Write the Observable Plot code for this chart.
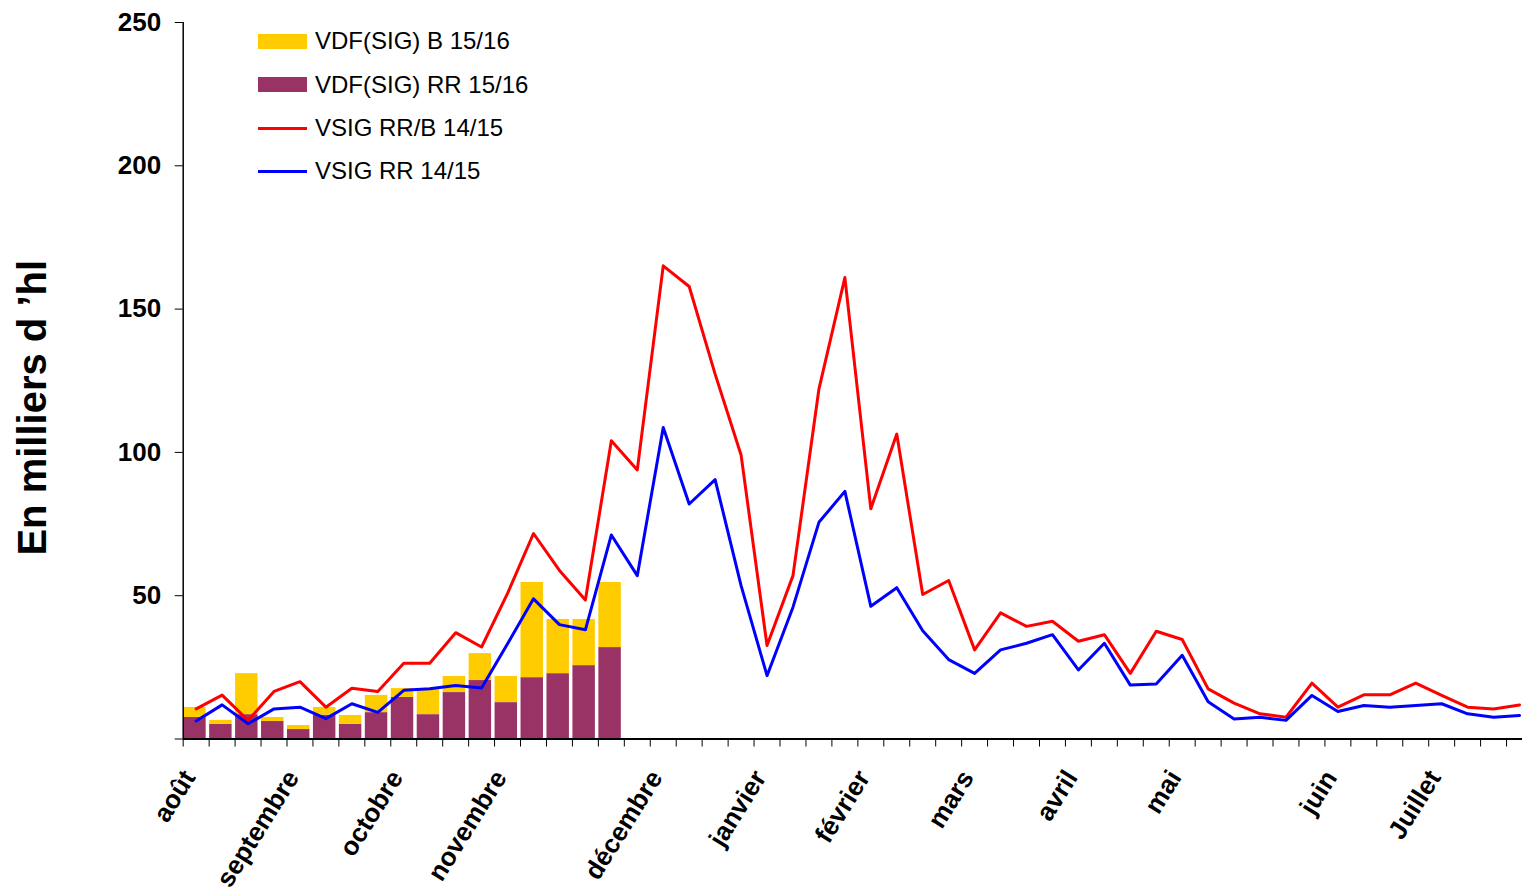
<!DOCTYPE html>
<html><head><meta charset="utf-8">
<script src="https://cdn.jsdelivr.net/npm/d3@7"></script>
<script src="https://cdn.jsdelivr.net/npm/@observablehq/plot@0.6"></script>
<style>
html,body{margin:0;padding:0;background:#fff;overflow:hidden;}
#wrap{position:relative;width:1522px;height:890px;overflow:hidden;}
#legend{position:absolute;left:258px;top:0;font-family:"Liberation Sans",Arial,sans-serif;font-size:24px;color:#000;}
.item{position:absolute;left:0;white-space:nowrap;display:flex;align-items:center;height:30px;}
.sw{width:49px;height:15px;margin-right:8px;}
.ln{width:49px;height:3px;margin-right:8px;}
</style></head>
<body><div id="wrap"><div id="chart"></div><div id="legend"></div></div>
<script>
// weekly index (0 = first week of août)
const weeks = d3.range(52);

// lines (season 14/15), values in milliers d'hl
const redLine = [10.5, 15.3, 6.5, 16.6, 20.0, 11.1, 17.7, 16.6, 26.4, 26.4, 37.1, 32.1, 50.8, 71.7, 58.8, 48.5, 104.1, 93.9, 165.1, 157.9, 127.3, 99.1, 32.6, 57.0, 122.1, 161.0, 80.3, 106.4, 50.4, 55.3, 31.1, 44.0, 39.3, 41.1, 34.1, 36.4, 22.9, 37.6, 34.7, 17.5, 12.5, 8.8, 7.6, 19.5, 11.1, 15.4, 15.4, 19.5, 15.2, 11.1, 10.5, 11.9];
const blueLine = [6.3, 11.9, 5.3, 10.5, 11.1, 7.1, 12.3, 9.3, 17.0, 17.5, 18.7, 17.8, 33.2, 48.9, 39.9, 38.1, 71.2, 57.0, 108.7, 82.0, 90.5, 53.5, 22.1, 46.0, 75.6, 86.4, 46.3, 52.8, 37.8, 27.7, 22.9, 31.1, 33.4, 36.4, 24.1, 33.4, 18.8, 19.2, 29.2, 13.0, 7.0, 7.6, 6.5, 15.2, 9.6, 11.7, 11.1, 11.7, 12.3, 8.8, 7.6, 8.2];

// bars (season 15/16)
const barRR = [7.5, 5.1, 8.5, 6.1, 3.3, 8.3, 5.1, 9.2, 14.5, 8.5, 16.2, 20.4, 12.7, 21.4, 22.8, 25.6, 31.9];
const barB  = [3.5, 1.4, 14.3, 1.4, 1.4, 2.7, 3.1, 6.0, 3.1, 8.8, 5.6, 9.4, 9.1, 33.2, 18.9, 16.1, 22.7];

// month tick labels and the week at which they are shown
const monthLabels = ["août", "septembre", "octobre", "novembre", "décembre", "janvier", "février", "mars", "avril", "mai", "juin", "Juillet"];
const monthWeek = [0, 4, 8, 12, 18, 22, 26, 30, 34, 38, 44, 48];

const yTicks = [0, 50, 100, 150, 200, 250];
const yLabel = "En milliers d \u2019hl";

const series = [
  {name: "VDF(SIG) B 15/16", color: "#FFCC00", type: "bar"},
  {name: "VDF(SIG) RR 15/16", color: "#993366", type: "bar"},
  {name: "VSIG RR/B 14/15", color: "#FF0000", type: "line"},
  {name: "VSIG RR 14/15", color: "#0000FF", type: "line"}
];

const lineData = weeks.map(w => ({w, red: redLine[w], blue: blueLine[w]}));
const barData = barRR.map((rr, w) => ({w, rr, b: barB[w]}));

const chart = Plot.plot({
  width: 1522, height: 890,
  marginTop: 22, marginBottom: 151.5, marginLeft: 182.7, marginRight: 0,
  style: {fontFamily: "Liberation Sans, Arial, sans-serif", background: "white", color: "black", overflow: "hidden"},
  x: {type: "linear", domain: [0, 52], range: [182.7, 1532]},
  y: {domain: [0, 250]},
  marks: [
    Plot.rectY(barData, {x1: "w", x2: d => d.w + 1, y1: 0, y2: "rr", fill: series[1].color, insetLeft: 0.5, insetRight: 3}),
    Plot.rectY(barData, {x1: "w", x2: d => d.w + 1, y1: "rr", y2: d => d.rr + d.b, fill: series[0].color, insetLeft: 0.5, insetRight: 3}),
    Plot.line(lineData, {x: d => d.w + 0.5, y: "red", stroke: series[2].color, strokeWidth: 3}),
    Plot.line(lineData, {x: d => d.w + 0.5, y: "blue", stroke: series[3].color, strokeWidth: 3}),
    Plot.ruleX([0], {y1: 0, y2: 250, stroke: "black", strokeWidth: 1.5}),
    Plot.ruleY([0], {x1: 0, x2: 52, stroke: "black", strokeWidth: 2}),
    Plot.axisY({ticks: yTicks, tickFormat: d => d === 0 ? "" : d, tickSize: 8, tickPadding: 14, fontSize: 26, fontWeight: "bold", label: null}),
    Plot.axisX({ticks: d3.range(53), tickFormat: () => "", tickSize: 8, label: null}),
    Plot.axisX({ticks: monthWeek.map(w => w + 0.5), tickFormat: d => monthLabels[monthWeek.indexOf(d - 0.5)], tickSize: 0, tickPadding: 34, tickRotate: -58, dx: -7, fontSize: 26, fontWeight: "bold", label: null}),
    Plot.text([yLabel], {frameAnchor: "left", textAnchor: "middle", rotate: -90, dx: -150, dy: 27, fontSize: 40, fontWeight: "bold"})
  ]
});
document.getElementById("chart").appendChild(chart);

const legend = document.getElementById("legend");
const rowTops = [26, 69.5, 113, 156];
series.forEach((s, i) => {
  const it = document.createElement("div");
  it.className = "item";
  it.style.top = rowTops[i] + "px";
  const sw = document.createElement("div");
  sw.className = s.type === "bar" ? "sw" : "ln";
  sw.style.background = s.color;
  it.appendChild(sw);
  const t = document.createElement("span");
  t.textContent = s.name;
  it.appendChild(t);
  legend.appendChild(it);
});
</script>
</body></html>
